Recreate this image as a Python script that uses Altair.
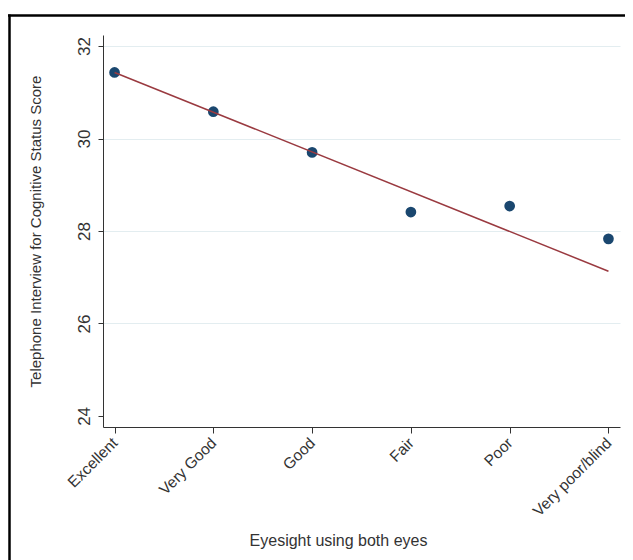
import altair as alt
import pandas as pd

# ---- data ----
categories = ["Excellent", "Very Good", "Good", "Fair", "Poor", "Very poor/blind"]
scores = [31.43, 30.58, 29.70, 28.41, 28.54, 27.83]
fit_categories = ["Excellent", "Very poor/blind"]
fit_scores = [31.43, 27.13]
y_ticks = [24, 26, 28, 30, 32]

points_df = pd.DataFrame({"eyesight": categories, "score": scores})
fit_df = pd.DataFrame({"eyesight": fit_categories, "score": fit_scores})

FONT = "Liberation Sans"
AX = "#333333"

x_scale = alt.Scale(type="point", domain=categories, padding=0.117)
y_scale = alt.Scale(domain=[23.76, 32.24], nice=False, zero=False)

x_axis = alt.Axis(
    title="Eyesight using both eyes",
    labelAngle=315, labelAlign="right", labelBaseline="middle",
    labelFontSize=15.5, labelPadding=7, labelFont=FONT, labelColor=AX,
    tickSize=6, tickColor=AX, domainColor=AX, grid=False,
    titleFontSize=16, titleFont=FONT, titleFontWeight="normal", titleColor=AX,
    titleX=235, titleY=113, titleAlign="center", titleBaseline="middle",
)
y_axis = alt.Axis(
    title="Telephone Interview for Cognitive Status Score",
    values=y_ticks, labelAngle=270, labelAlign="center", labelBaseline="bottom",
    labelFontSize=17, labelPadding=5, labelFont=FONT, labelColor=AX,
    tickSize=5, tickColor=AX, domainColor=AX,
    grid=True, gridColor="#e3edf0", gridWidth=1,
    gridOpacity={"condition": {"test": "datum.value == 24", "value": 0}, "value": 1},
    titleFontSize=15, titleFont=FONT, titleFontWeight="normal", titleColor=AX,
    titleX=-68, titleY=196, titleAngle=270, titleAlign="center", titleBaseline="middle",
)

points = alt.Chart(points_df).mark_circle(size=115, color="#1a476f", opacity=1).encode(
    x=alt.X("eyesight:N", sort=categories, scale=x_scale, axis=x_axis),
    y=alt.Y("score:Q", scale=y_scale, axis=y_axis),
)
fit = alt.Chart(fit_df).mark_line(color="#9a3a40", strokeWidth=1.5).encode(
    x=alt.X("eyesight:N", sort=categories, scale=x_scale),
    y=alt.Y("score:Q", scale=y_scale),
)

frame_top = alt.Chart(alt.Data(values=[{}])).mark_rule(color="black", strokeWidth=2.5).encode(
    x=alt.value(-96), x2=alt.value(620), y=alt.value(-19.5)
)
frame_left = alt.Chart(alt.Data(values=[{}])).mark_rule(color="black", strokeWidth=2.5).encode(
    x=alt.value(-93.5), y=alt.value(-20.5), y2=alt.value(620)
)

chart = alt.layer(points, fit, frame_top, frame_left).properties(
    width=517, height=392,
    padding={"left": 95, "top": 27, "right": 5, "bottom": 133},
    autosize=alt.AutoSizeParams(type="none"),
    background="white",
).configure_view(stroke=None)

chart.save("out.html", embed_options={"renderer": "svg", "actions": False})
